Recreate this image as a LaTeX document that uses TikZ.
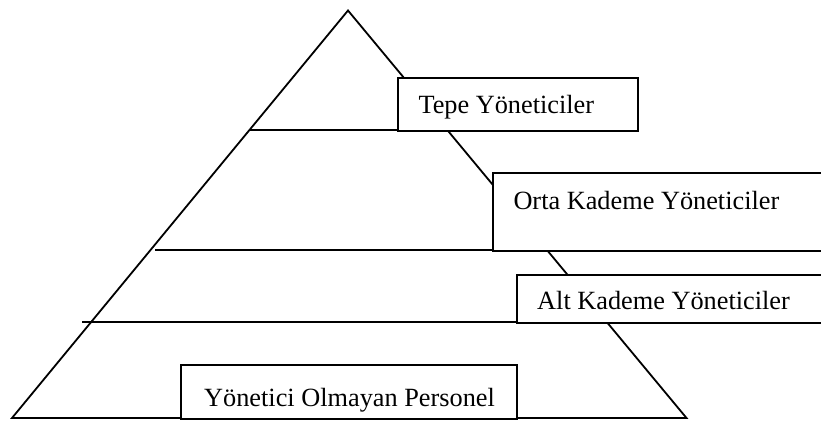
\documentclass[tikz,border=0pt]{standalone}
\usepackage{fontspec}
\setmainfont{Liberation Serif}
\begin{document}
\begin{tikzpicture}[x=1pt,y=-1pt,
  ln/.style={line width=1.8pt, line cap=rect},
  box/.style={draw, line width=1.8pt, fill=white, inner sep=0pt, anchor=north west},
  lbl/.style={inner sep=0pt, anchor=base west, font=\fontsize{26.3}{31}\selectfont}]
\useasboundingbox (0,0) rectangle (821,421);
\clip (0,0) rectangle (821,421);
% pyramid outline
\coordinate (apex) at (348,10.5);
\coordinate (bl) at (12,418);
\coordinate (br) at (686.5,418);
\draw[ln, line join=miter] (apex) -- (bl) -- (br) -- cycle;
% level lines
\coordinate (l1a) at (250.5,130);
\coordinate (l1b) at (500,130);
\coordinate (l2a) at (155.7,250);
\coordinate (l2b) at (830,250);
\coordinate (l3a) at (83,322);
\coordinate (l3b) at (830,322);
\draw[ln] (l1a) -- (l1b);
\draw[ln] (l2a) -- (l2b);
\draw[ln] (l3a) -- (l3b);
% boxes
\node[box, minimum width=240pt, minimum height=53.3pt] (tepebox) at (396.7,76.7) {};
\node[box, minimum width=338pt, minimum height=77.7pt] (ortabox) at (492,172.3) {};
\node[box, minimum width=314.3pt, minimum height=47.7pt] (altbox) at (515.7,274.3) {};
\node[box, minimum width=336pt, minimum height=54pt] (basebox) at (180,364) {};
% labels
\node[lbl] (tepe) at (418.3,113.3) {Tepe Yöneticiler};
\node[lbl] (orta) at (513.3,209.3) {Orta Kademe Yöneticiler};
\node[lbl] (alt) at (537,309) {Alt Kademe Yöneticiler};
\node[lbl] (personel) at (204,406.7) {Yönetici Olmayan Personel};
\end{tikzpicture}
\end{document}
